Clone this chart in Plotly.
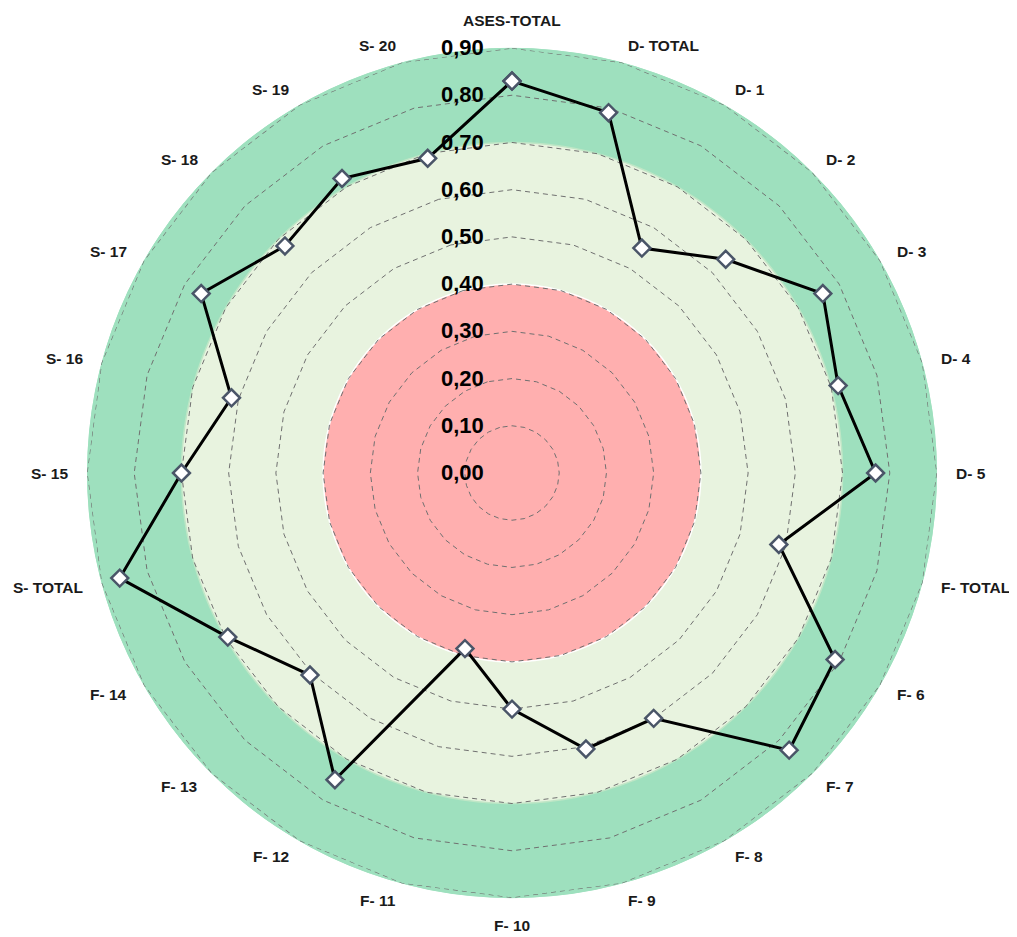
import numpy as np
import plotly.graph_objects as go

categories = ["ASES-TOTAL", "D- TOTAL", "D- 1", "D- 2", "D- 3", "D- 4", "D- 5",
              "F- TOTAL", "F- 6", "F- 7", "F- 8", "F- 9", "F- 10", "F- 11", "F- 12",
              "F- 13", "F- 14", "S- TOTAL", "S- 15", "S- 16", "S- 17", "S- 18",
              "S- 19", "S- 20"]
values = [0.83, 0.79, 0.55, 0.64, 0.76, 0.715, 0.77, 0.585, 0.79, 0.83, 0.60,
          0.605, 0.50, 0.385, 0.75, 0.605, 0.695, 0.86, 0.70, 0.615, 0.76, 0.68,
          0.72, 0.69]

# background bands (upper limits), drawn largest first
band_limits = [0.9, 0.7, 0.4]
band_colors = ["#9EE0BE", "#E8F3DF", "#FFAFAF"]
band_edges = ["#9EE0BE", "#BFE6C6", "#FFFFFF"]
tick_values = [0.0, 0.1, 0.2, 0.3, 0.4, 0.5, 0.6, 0.7, 0.8, 0.9]
outer_limit = 0.9

W, H = 1009, 929
M = dict(l=42, r=43, t=40, b=39)
plot_w = W - M["l"] - M["r"]
plot_h = H - M["t"] - M["b"]
radius_px = min(plot_w, plot_h) / 2
label_dist_px = radius_px + 18  # labels sit just outside the outer ring

font_family = "Arial, Liberation Sans, sans-serif"

n = len(categories)
half = n // 2
annotations = []
for i, cat in enumerate(categories):
    ang = np.deg2rad(i * 360 / n)
    x = 0.5 + label_dist_px * np.sin(ang) / plot_w
    y = 0.5 + label_dist_px * np.cos(ang) / plot_h
    if i == 0:
        xa, ya = "center", "bottom"
    elif i == half:
        xa, ya = "center", "top"
    elif i < half:
        xa, ya = "left", "middle"
    else:
        xa, ya = "right", "middle"
    annotations.append(dict(
        x=x, y=y, xref="paper", yref="paper", text=cat, showarrow=False,
        xanchor=xa, yanchor=ya, borderpad=0,
        font=dict(family=font_family, size=15.5, color="#1a1a1a", weight="bold")))

fig = go.Figure()

circle_theta = np.linspace(0, 360, 361)
for lim, col, edge in zip(band_limits, band_colors, band_edges):
    fig.add_trace(go.Scatterpolar(
        r=[lim] * len(circle_theta), theta=circle_theta, mode="lines",
        fill="toself", fillcolor=col, line=dict(color=edge, width=1.5),
        hoverinfo="skip", showlegend=False, subplot="polar"))

# outer dashed polygon (grid at the range limit)
fig.add_trace(go.Scatterpolar(
    r=[outer_limit] * (n + 1), theta=categories + categories[:1],
    mode="lines", line=dict(color="#707070", width=1.2, dash="5px,4px"),
    cliponaxis=False, hoverinfo="skip", showlegend=False, subplot="polar2"))

fig.add_trace(go.Scatterpolar(
    r=values + values[:1], theta=categories + categories[:1],
    mode="lines+markers",
    line=dict(color="#000000", width=3),
    marker=dict(symbol="diamond", size=13, color="#FFFFFF",
                line=dict(color="#4A5568", width=2.5)),
    cliponaxis=False, showlegend=False, subplot="polar2"))

dom = dict(x=[0, 1], y=[0, 1])
fig.update_layout(
    width=W, height=H,
    margin=M,
    paper_bgcolor="white",
    separators=",.",
    annotations=annotations,
    polar=dict(
        domain=dom, bgcolor="rgba(0,0,0,0)",
        radialaxis=dict(visible=False, range=[0, outer_limit]),
        angularaxis=dict(visible=False),
    ),
    polar2=dict(
        domain=dom, bgcolor="rgba(0,0,0,0)", gridshape="linear",
        radialaxis=dict(range=[0, outer_limit], tickvals=tick_values, tickformat=".2f",
                        angle=90, tickangle=90, side="counterclockwise",
                        showline=False, ticks="outside", ticklen=20,
                        tickcolor="rgba(0,0,0,0)",
                        showgrid=True, gridcolor="#707070", griddash="5px,4px",
                        gridwidth=1.2,
                        tickfont=dict(family=font_family, size=22, color="#000000",
                                      weight="bold")),
        angularaxis=dict(rotation=90, direction="clockwise", showgrid=False,
                         showline=False, ticks="", showticklabels=False),
    ),
)

fig.write_html("out.html")
